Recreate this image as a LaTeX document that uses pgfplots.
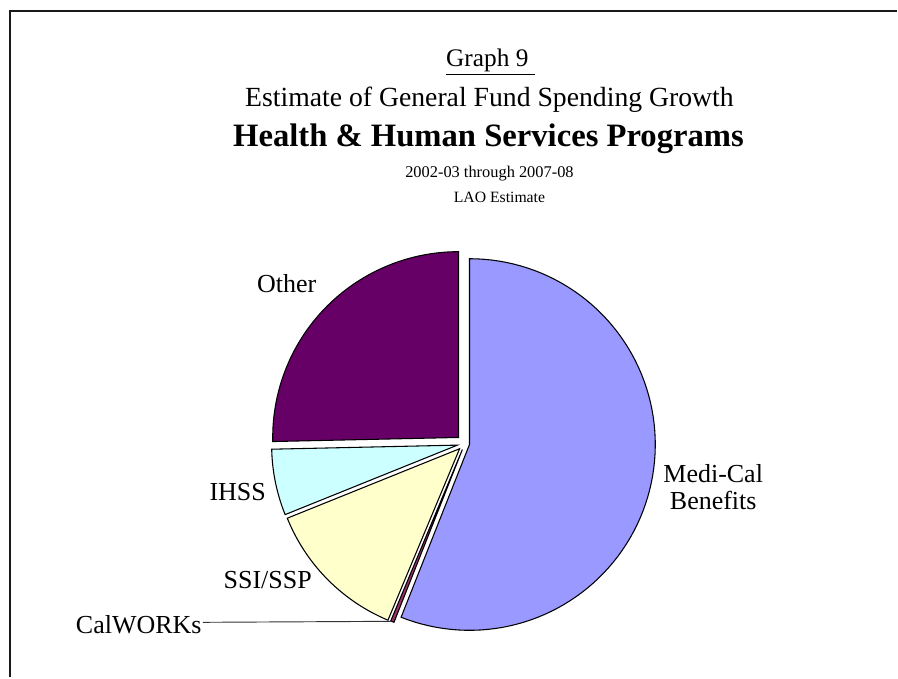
\documentclass[border=0pt]{standalone}
\usepackage{pgfplots}
\usepackage{pgfplotstable}
\pgfplotsset{compat=1.18}
\usepackage{fontspec}
\setmainfont{Liberation Serif}

\definecolor{medi}{RGB}{153,153,255}
\definecolor{calw}{RGB}{153,51,102}
\definecolor{ssi}{RGB}{255,255,204}
\definecolor{ihss}{RGB}{204,255,255}
\definecolor{other}{RGB}{102,0,102}

% share of growth (percent) and explosion offset (px)
\pgfplotstableread{
label value explode
Medi-Cal 56.0 4.8
CalWORKs 0.3 6.4
SSI/SSP 12.6 7.3
IHSS 5.75 7.5
Other 25.35 8.8
}\piedata

\def\cx{465.3}
\def\cy{444.1}
\def\R{186}
\gdef\cumangle{0}
\newcommand\slicecalc[2]{%
  \pgfplotstablegetelem{#1}{value}\of\piedata
  \pgfmathsetmacro\tmpv{\pgfplotsretval}%
  \pgfplotstablegetelem{#1}{explode}\of\piedata
  \pgfmathsetmacro\tmpd{\pgfplotsretval}%
  \pgfmathsetmacro\tmps{\cumangle}%
  \pgfmathsetmacro\tmpe{\cumangle+3.6*\tmpv}%
  \xdef\cumangle{\tmpe}%
  \pgfmathsetmacro\tmpx{\cx+\tmpd*sin((\tmps+\tmpe)/2)}%
  \pgfmathsetmacro\tmpy{\cy-\tmpd*cos((\tmps+\tmpe)/2)}%
  \expandafter\xdef\csname s#2\endcsname{\tmps}%
  \expandafter\xdef\csname e#2\endcsname{\tmpe}%
  \expandafter\xdef\csname x#2\endcsname{\tmpx}%
  \expandafter\xdef\csname y#2\endcsname{\tmpy}%
}
\slicecalc{0}{A}
\slicecalc{1}{B}
\slicecalc{2}{C}
\slicecalc{3}{D}
\slicecalc{4}{E}

\begin{document}
\begin{tikzpicture}
\begin{axis}[
  at={(0,0)}, anchor=south west,
  width=673.5pt, height=508.5pt, scale only axis,
  xmin=0, xmax=898, ymin=0, ymax=678, y dir=reverse,
  axis lines=none, clip=false,
]
\path (0,0) rectangle (898,678);
% frame
\draw[line width=1.5pt, black!90] (10,678) -- (10,11) -- (898,11);

% pie slices
\addplot[draw=black, line width=0.8pt, fill=medi, domain=\sA:\eA, samples=90, variable=\t]
  ({\xA+\R*sin(\t)}, {\yA-\R*cos(\t)}) -- (\xA,\yA) -- cycle;
\addplot[draw=black, line width=0.8pt, fill=calw, domain=\sB:\eB, samples=5, variable=\t]
  ({\xB+\R*sin(\t)}, {\yB-\R*cos(\t)}) -- (\xB,\yB) -- cycle;
\addplot[draw=black, line width=0.8pt, fill=ssi, domain=\sC:\eC, samples=40, variable=\t]
  ({\xC+\R*sin(\t)}, {\yC-\R*cos(\t)}) -- (\xC,\yC) -- cycle;
\addplot[draw=black, line width=0.8pt, fill=ihss, domain=\sD:\eD, samples=30, variable=\t]
  ({\xD+\R*sin(\t)}, {\yD-\R*cos(\t)}) -- (\xD,\yD) -- cycle;
\addplot[draw=black, line width=0.8pt, fill=other, domain=\sE:\eE, samples=60, variable=\t]
  ({\xE+\R*sin(\t)}, {\yE-\R*cos(\t)}) -- (\xE,\yE) -- cycle;

% titles
\node[font=\fontsize{19}{22}\selectfont] at (491,62) {\underline{Graph 9\ }};
\node[font=\fontsize{20.8}{24}\selectfont] at (490,100) {Estimate of General Fund Spending Growth};
\node[font=\fontsize{24.5}{28}\selectfont\bfseries] at (489,139) {Health \& Human Services Programs};
\node[font=\fontsize{12.3}{15}\selectfont] at (490,174) {2002-03 through 2007-08};
\node[font=\fontsize{11.8}{14}\selectfont] at (500,198) {LAO Estimate};

% labels
\node[font=\fontsize{19.5}{20.25}\selectfont] at (287,284) {Other};
\node[align=center, font=\fontsize{19.5}{20.25}\selectfont] at (714,488) {Medi-Cal\\Benefits};
\node[font=\fontsize{19.5}{20.25}\selectfont] at (238,493) {IHSS};
\node[font=\fontsize{19.5}{20.25}\selectfont] at (268,581) {SSI/SSP};
\node[anchor=east, inner sep=0pt, font=\fontsize{19.5}{20.25}\selectfont] at (202,625) {CalWORKs};
\draw[line width=0.7pt, black!80] (203,623) -- (391,622);
\end{axis}
\end{tikzpicture}
\end{document}
